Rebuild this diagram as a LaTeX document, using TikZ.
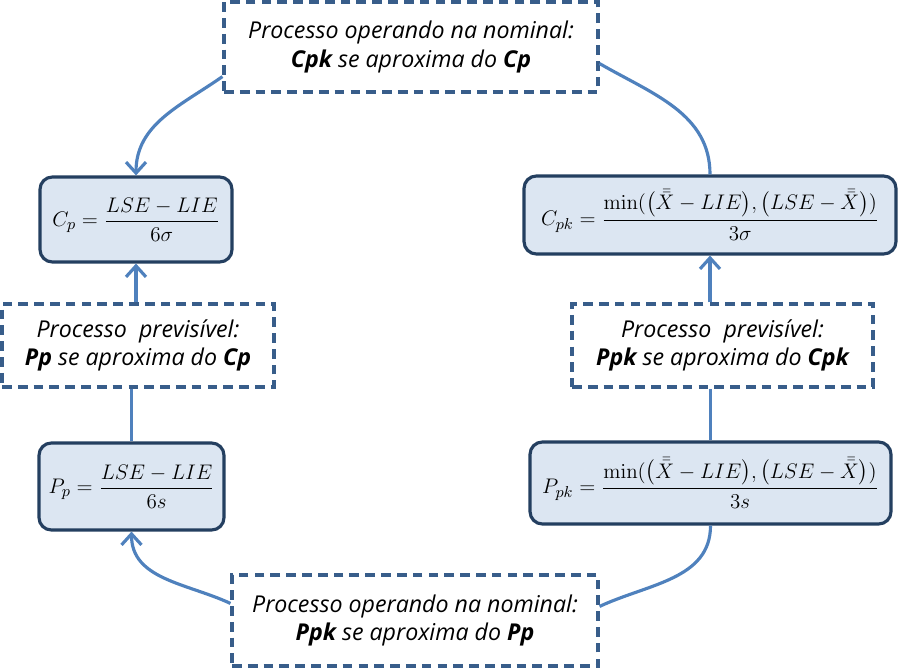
\documentclass[tikz,border=0pt]{standalone}
\usepackage{amsmath}
\usepackage[no-math]{fontspec}
\setmainfont{Open Sans}
\usetikzlibrary{arrows.meta,positioning,calc}
\definecolor{ink}{HTML}{243F60}
\definecolor{dashblue}{HTML}{385D8A}
\definecolor{flow}{HTML}{4F81BD}
\definecolor{paleblue}{HTML}{DCE6F2}
\tikzset{formula/.style={draw=ink,fill=paleblue,line width=1.8pt,rounded corners=7pt,inner sep=2pt,font=\fontsize{12.8}{15}\selectfont},note/.style={draw=dashblue,fill=white,line width=1.8pt,dash pattern=on 5.5pt off 3.5pt,align=center,font=\itshape\fontsize{13.2}{16}\selectfont},connector/.style={draw=flow,line width=1.8pt},every picture/.style={>={Straight Barb[length=2.2mm,width=4mm]}}}

\begin{document}
\begin{tikzpicture}[x=.02cm,y=-.02cm]
  \useasboundingbox (0,0) rectangle (911,668);
  % notes
  \node[note,minimum width=7.48cm,minimum height=1.8cm] (topnote) at (411,47) {Processo operando na nominal:\\\textbf{Cpk} se aproxima do \textbf{Cp}};
  \node[note,minimum width=5.44cm,minimum height=1.66cm] (midl) at (138,345.5) {Processo\ \ previsível:\\\textbf{Pp} se aproxima do \textbf{Cp}};
  \node[note,minimum width=6.02cm,minimum height=1.66cm] (midr) at (722.5,345.5) {Processo\ \ previsível:\\\textbf{Ppk} se aproxima do \textbf{Cpk}};
  \node[note,minimum width=7.32cm,minimum height=1.82cm] (botnote) at (415,620.5) {Processo operando na nominal:\\\textbf{Ppk} se aproxima do \textbf{Pp}};
  % formulas
  \node[formula,minimum width=3.84cm,minimum height=1.7cm] (cp) at (136,219.5) {$C_p=\dfrac{LSE-LIE}{6\sigma}$};
  \node[formula,minimum width=7.44cm,minimum height=1.56cm] (cpk) at (710,215) {$C_{pk}=\dfrac{\min(\bigl(\bar{\bar{X}}-LIE\bigr),\bigl(LSE-\bar{\bar{X}}\bigr))}{3\sigma}$};
  \node[formula,minimum width=3.7cm,minimum height=1.74cm] (pp) at (131.5,486.5) {$P_p=\dfrac{LSE-LIE}{6s}$};
  \node[formula,minimum width=7.22cm,minimum height=1.64cm] (ppk) at (710.5,483) {$P_{pk}=\dfrac{\min(\bigl(\bar{\bar{X}}-LIE\bigr),\bigl(LSE-\bar{\bar{X}}\bigr))}{3s}$};
  % connectors
  \draw[connector,->] ([yshift=.34cm]topnote.south west) to[out=215,in=90] (cp.north);
  \draw[connector] ([yshift=.6cm]topnote.south east) to[out=-30,in=90] (cpk.north);
  \draw[connector,->] (midl.north -| cp.south) -- (cp.south);
  \draw[connector] (pp.north) -- (pp.north |- midl.south);
  \draw[connector,->] (midr.north -| cpk.south) -- (cpk.south);
  \draw[connector] (ppk.north) -- (ppk.north |- midr.south);
  \draw[connector,->] ([yshift=-.6cm]botnote.north west) to[out=155,in=-90] (pp.south);
  \draw[connector] (ppk.south) to[out=-90,in=25] ([yshift=-.66cm]botnote.north east);
\end{tikzpicture}
\end{document}
